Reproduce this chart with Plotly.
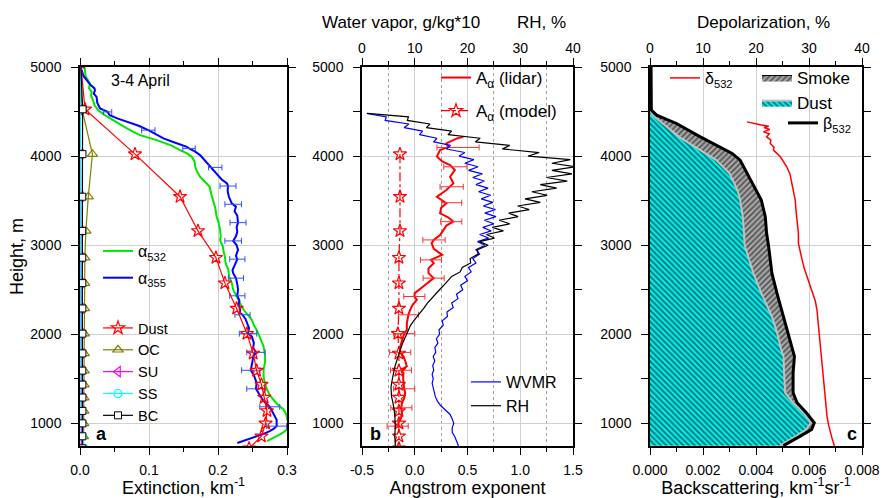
import plotly.graph_objects as go

# ---------------- panel a: extinction profiles ----------------
h_532 = [5000, 4982, 4900, 4814, 4760, 4720, 4680, 4627, 4570, 4515, 4460, 4403, 4350, 4310, 4270,
         4235, 4179, 4120, 4067, 4030, 3992, 3940, 3880, 3820, 3768, 3710, 3656, 3580, 3507, 3420,
         3320, 3250, 3171, 3100, 3059, 2984, 2930, 2872, 2800, 2723, 2650, 2574, 2500, 2424, 2350,
         2275, 2220, 2163, 2100, 2051, 1960, 1864, 1770, 1678, 1600, 1529, 1450, 1380, 1320, 1268,
         1210, 1156, 1100, 1044, 990, 932, 890, 857, 830, 801]
ext_532 = [0.004, 0.007, 0.008, 0.0145, 0.013, 0.017, 0.016, 0.019, 0.021, 0.0265, 0.036, 0.048, 0.058,
           0.068, 0.078, 0.087, 0.111, 0.132, 0.145, 0.155, 0.162, 0.166, 0.167, 0.170, 0.174, 0.181,
           0.188, 0.190, 0.193, 0.196, 0.198, 0.201, 0.203, 0.204, 0.203, 0.207, 0.208, 0.210, 0.211,
           0.215, 0.216, 0.220, 0.222, 0.227, 0.231, 0.237, 0.243, 0.249, 0.252, 0.256, 0.261, 0.266,
           0.268, 0.268, 0.266, 0.266, 0.268, 0.271, 0.275, 0.280, 0.287, 0.295, 0.299, 0.301, 0.302,
           0.300, 0.293, 0.285, 0.278, 0.271]

h_355 = [5000, 4963, 4900, 4851, 4800, 4760, 4739, 4700, 4664, 4600, 4534, 4496, 4459, 4420, 4384,
         4340, 4291, 4240, 4198, 4150, 4104, 4086, 4050, 4011, 3950, 3880, 3800, 3740, 3694, 3664,
         3600, 3540, 3470, 3432, 3380, 3330, 3253, 3200, 3150, 3100, 3048, 3000, 2947, 2880, 2843,
         2780, 2720, 2686, 2630, 2560, 2500, 2432, 2380, 2330, 2280, 2238, 2219, 2170, 2126, 2070,
         2007, 1976, 1900, 1850, 1797, 1752, 1700, 1650, 1596, 1540, 1500, 1454, 1388, 1340, 1304,
         1250, 1186, 1156, 1100, 1040, 1007, 969, 940, 913, 880, 860, 838, 801, 780]
ext_355 = [0.0, 0.0025, 0.005, 0.0097, 0.015, 0.021, 0.0217, 0.020, 0.024, 0.025, 0.029, 0.040, 0.043,
           0.055, 0.068, 0.085, 0.099, 0.111, 0.121, 0.138, 0.155, 0.158, 0.167, 0.174, 0.181, 0.190,
           0.198, 0.205, 0.213, 0.2145, 0.214, 0.216, 0.220, 0.226, 0.224, 0.228, 0.229, 0.227, 0.228,
           0.226, 0.222, 0.227, 0.229, 0.226, 0.228, 0.224, 0.221, 0.222, 0.226, 0.228, 0.229, 0.228,
           0.231, 0.230, 0.232, 0.232, 0.2355, 0.240, 0.242, 0.245, 0.2435, 0.249, 0.252, 0.251, 0.255,
           0.251, 0.250, 0.249, 0.2475, 0.252, 0.254, 0.256, 0.255, 0.259, 0.261, 0.266, 0.275, 0.277,
           0.281, 0.285, 0.285, 0.285, 0.281, 0.275, 0.265, 0.258, 0.251, 0.236, 0.228]

err355_h = [4496, 4291, 4086, 3873, 3664, 3459, 3253, 3048, 2843, 2630, 2432, 2219, 2007, 1797,
            1596, 1388, 1186, 969]
err355_x = [0.040, 0.099, 0.158, 0.196, 0.2145, 0.222, 0.229, 0.222, 0.228, 0.226, 0.228, 0.2355,
            0.2435, 0.255, 0.2475, 0.255, 0.275, 0.285]
err355_d = [0.006, 0.0097, 0.009, 0.0097, 0.0116, 0.012, 0.0116, 0.012, 0.011, 0.011, 0.011, 0.011,
            0.0126, 0.0133, 0.0133, 0.0133, 0.0145, 0.0145]

# model (aerosol species) levels
h_model = [5050, 4525, 4022, 3544, 3160, 2860, 2574, 2290, 2007, 1785, 1592, 1435, 1290, 1140, 1000, 855, 720]
ext_dust = [0.001, 0.0072, 0.0797, 0.145, 0.171, 0.197, 0.210, 0.227, 0.242, 0.251, 0.256, 0.263,
            0.267, 0.271, 0.269, 0.263, 0.245]
ext_oc = [0.0005, 0.003, 0.018, 0.012, 0.0085, 0.007, 0.0068, 0.0066, 0.0064, 0.0062, 0.006, 0.006,
          0.0058, 0.0056, 0.0055, 0.005, 0.005]
ext_su = [0.0003, 0.0008, 0.0012, 0.0012, 0.0012, 0.0013, 0.0014, 0.0015, 0.0016, 0.0016, 0.0016,
          0.0017, 0.0017, 0.0018, 0.0018, 0.0018, 0.0018]
ext_ss = [0.0002, 0.0005, 0.0007, 0.0008, 0.0009, 0.0010, 0.0010, 0.0011, 0.0011, 0.0012, 0.0012,
          0.0013, 0.0014, 0.0016, 0.0020, 0.0035, 0.006]
ext_bc = [0.001, 0.0038, 0.0036, 0.0033, 0.0032, 0.0033, 0.0034, 0.0034, 0.0035, 0.0035, 0.0034,
          0.0034, 0.0035, 0.0035, 0.0035, 0.0034, 0.0034]

# ---------------- panel b: Angstrom exponent, water vapour, RH ----------------
h_ang = [4216, 4198, 4142, 4104, 4067, 3996, 3940, 3899, 3843, 3768, 3694, 3619, 3544, 3470, 3420,
         3358, 3310, 3264, 3220, 3171, 3115, 3059, 3022, 2960, 2891, 2835, 2798, 2740, 2686, 2630,
         2611, 2537, 2462, 2424, 2387, 2330, 2275, 2219, 2126, 2051, 2007, 1977, 1920, 1864, 1797,
         1752, 1700, 1640, 1596, 1566, 1500, 1455, 1388, 1343, 1280, 1231, 1175, 1119, 1060, 1007, 969]
ang_lidar = [0.46, 0.40, 0.30, 0.32, 0.24, 0.21, 0.26, 0.335, 0.38, 0.335, 0.366, 0.30, 0.21, 0.30,
             0.25, 0.24, 0.32, 0.366, 0.30, 0.27, 0.24, 0.18, 0.16, 0.18, 0.26, 0.154, 0.18, 0.13,
             0.13, 0.179, 0.16, 0.08, 0.00, -0.004, 0.02, -0.02, -0.043, -0.06, -0.075, -0.075, -0.10,
             -0.107, -0.12, -0.138, -0.14, -0.107, -0.09, -0.075, -0.13, -0.107, -0.11, -0.107, -0.10,
             -0.091, -0.10, -0.122, -0.127, -0.122, -0.13, -0.154, -0.16]

errang_h = [4097, 3880, 3656, 3477, 3264, 3059, 2835, 2630, 2424, 2219, 2007, 1797, 1596, 1388, 1175, 969]
errang_x = [0.41, 0.385, 0.35, 0.35, 0.346, 0.182, 0.154, 0.179, -0.004, -0.06, -0.10, -0.138, -0.13,
            -0.10, -0.127, -0.162]
errang_d = [0.20, 0.11, 0.11, 0.095, 0.10, 0.106, 0.10, 0.10, 0.10, 0.095, 0.10, 0.10, 0.10, 0.10, 0.10, 0.10]

ang_model = [-0.14, -0.14, -0.14, -0.15, -0.15, -0.15, -0.16, -0.15, -0.15, -0.15, -0.15, -0.15,
             -0.15, -0.15, -0.15]   # model levels from 4022 m down

h_wv = [4480, 4440, 4400, 4360, 4320, 4280, 4240, 4200, 4160, 4120, 4080, 4040, 4000, 3960, 3920,
        3880, 3840, 3800, 3760, 3720, 3680, 3640, 3600, 3560, 3520, 3480, 3440, 3400, 3360, 3320,
        3280, 3240, 3200, 3160, 3120, 3080, 3040, 3000, 2950, 2900, 2850, 2800, 2750, 2700, 2650,
        2600, 2550, 2500, 2450, 2400, 2350, 2300, 2250, 2200, 2150, 2100, 2050, 2000, 1950, 1900,
        1850, 1800, 1750, 1700, 1650, 1600, 1550, 1500, 1450, 1400, 1350, 1300, 1250, 1200, 1150,
        1100, 1050, 1000, 950, 900, 850, 800, 746]
wvmr = [0.9, 4.6, 4.4, 8.9, 8.0, 11.5, 10.9, 14.2, 13.6, 16.8, 16.0, 19.5, 18.4, 21.2, 19.5, 22.0,
        20.2, 22.8, 21.0, 23.2, 21.6, 23.9, 22.1, 24.4, 22.6, 24.8, 23.0, 25.3, 23.3, 25.4, 23.2, 25.0,
        22.9, 24.5, 22.3, 24.0, 21.9, 23.3, 21.6, 22.3, 21.0, 21.6, 20.2, 20.7, 19.5, 20.0, 18.7, 19.1,
        17.9, 18.2, 17.0, 17.3, 16.1, 16.2, 15.2, 15.4, 14.6, 14.7, 14.1, 14.4, 13.8, 14.0, 13.5, 13.8,
        13.4, 13.6, 13.3, 13.5, 13.3, 13.5, 13.6, 13.9, 14.3, 14.9, 15.8, 16.7, 17.1, 17.4, 17.1, 17.1,
        17.6, 18.0, 18.3]
rh = [1.0, 8.8, 8.6, 12.9, 12.2, 17.0, 16.3, 22.4, 21.5, 28.0, 26.6, 33.6, 31.5, 39.5, 36.0, 40.5,
      36.0, 39.8, 35.0, 38.9, 33.8, 36.9, 32.2, 35.1, 30.9, 33.8, 29.5, 31.7, 27.8, 29.6, 26.0, 28.0,
      24.7, 26.8, 23.6, 25.1, 22.3, 23.9, 21.9, 22.0, 20.5, 20.6, 19.0, 18.6, 17.0, 16.3, 15.5, 14.7,
      13.9, 13.2, 12.4, 11.8, 11.1, 10.5, 9.8, 9.2, 8.8, 8.4, 8.0, 7.7, 7.4, 7.1, 6.9, 6.6, 6.3, 6.1,
      5.9, 5.7, 5.6, 5.5, 5.5, 5.6, 5.8, 6.0, 6.1, 6.2, 6.3, 6.3, 6.3, 6.2, 6.2, 6.3, 6.3]

# ---------------- panel c: backscattering and depolarization ----------------
h_bsc = [5000, 4700, 4515, 4459, 4366, 4216, 4104, 4030, 3955, 3806, 3619, 3507, 3320, 3134, 3000,
         2686, 2462, 2200, 2013, 1827, 1752, 1566, 1343, 1231, 1119, 1007, 932, 857, 750]
bsc_total = [0.00004, 0.00004, 0.00005, 0.00025, 0.001, 0.0019, 0.0026, 0.0031, 0.0034, 0.00366,
             0.0040, 0.0042, 0.00435, 0.0044, 0.00447, 0.0046, 0.00479, 0.00504, 0.00523, 0.0054,
             0.00545, 0.0054, 0.0054, 0.00555, 0.0059, 0.0062, 0.0061, 0.00567, 0.00504]
bsc_dust = [0, 0, 0, 0.0001, 0.0005, 0.0011, 0.0017, 0.0021, 0.0025, 0.0030, 0.0033, 0.0034, 0.0035,
            0.00355, 0.00357, 0.0039, 0.0042, 0.0046, 0.0048, 0.00495, 0.00504, 0.00506, 0.0051,
            0.0054, 0.0058, 0.00607, 0.0059, 0.0055, 0.0049]

h_dep = [4384, 4366, 4350, 4336, 4320, 4300, 4272, 4250, 4216, 4180, 4142, 4100, 4067, 3992, 3940,
         3880, 3800, 3694, 3600, 3507, 3420, 3320, 3230, 3134, 3022, 2930, 2835, 2740, 2649, 2560,
         2462, 2370, 2275, 2150, 2051, 1940, 1827, 1700, 1603, 1500, 1380, 1230, 1082, 980, 895, 820, 746]
dep_532 = [18.3, 20.2, 21.0, 22.4, 21.5, 22.6, 21.4, 22.5, 22.0, 22.8, 22.7, 23.4, 23.3, 24.6, 25.1,
           25.8, 26.4, 26.8, 27.1, 27.4, 27.5, 27.7, 27.9, 28.0, 28.0, 28.3, 28.7, 29.1, 29.6, 30.1,
           30.7, 31.2, 31.5, 31.7, 31.8, 32.0, 32.1, 32.3, 32.5, 32.6, 32.8, 33.1, 33.4, 33.7, 34.0,
           34.4, 34.8]

FONT = "Liberation Sans, Arial, sans-serif"
RED = "#ff0000"

fig = go.Figure()

# panel a traces
fig.add_trace(go.Scatter(x=ext_532, y=h_532, mode="lines", name="α<sub>532</sub>",
                         line=dict(color="#00e600", width=2), legend="legend", legendgroup="a1"))
fig.add_trace(go.Scatter(x=ext_355, y=h_355, mode="lines", name="α<sub>355</sub>",
                         line=dict(color="#0000ff", width=2), legend="legend", legendgroup="a2"))
fig.add_trace(go.Scatter(x=err355_x, y=err355_h, mode="markers", showlegend=False,
                         marker=dict(size=1, color="rgba(0,0,0,0)"),
                         error_x=dict(type="data", array=err355_d, color="#3050ff", thickness=1, width=3)))
species = [("Dust", ext_dust, RED, "star-open", 10),
           ("OC", ext_oc, "#808000", "triangle-up-open", 9),
           ("SU", ext_su, "#ff00ff", "triangle-left-open", 9),
           ("SS", ext_ss, "#00ffff", "circle-open", 8)]
for name, vals, col, sym, size in species:
    fig.add_trace(go.Scatter(x=vals, y=h_model, mode="lines+markers", name=name, legend="legend2",
                             line=dict(color=col, width=1.2),
                             marker=dict(symbol=sym, size=size, color=col, line=dict(width=1.2))))
fig.add_trace(go.Scatter(x=ext_bc, y=h_model, mode="lines+markers", name="BC", legend="legend2",
                         line=dict(color="black", width=1.2),
                         marker=dict(symbol="square", size=7, color="white", line=dict(color="black", width=1))))

# panel b traces
fig.add_trace(go.Scatter(x=wvmr, y=h_wv, xaxis="x4", yaxis="y2", mode="lines", name="WVMR",
                         line=dict(color="#0000ff", width=1.2), legend="legend4"))
fig.add_trace(go.Scatter(x=rh, y=h_wv, xaxis="x4", yaxis="y2", mode="lines", name="RH",
                         line=dict(color="black", width=1.2), legend="legend4"))
fig.add_trace(go.Scatter(x=ang_lidar, y=h_ang, xaxis="x2", yaxis="y2", mode="lines",
                         name="A<sub>α</sub> (lidar)", line=dict(color=RED, width=2),
                         legend="legend3", legendgroup="b1"))
fig.add_trace(go.Scatter(x=errang_x, y=errang_h, xaxis="x2", yaxis="y2", mode="markers", showlegend=False,
                         marker=dict(size=1, color="rgba(0,0,0,0)"),
                         error_x=dict(type="data", array=errang_d, color="#ff3030", thickness=1, width=3)))
fig.add_trace(go.Scatter(x=ang_model, y=h_model[2:], xaxis="x2", yaxis="y2", mode="lines+markers",
                         name="A<sub>α</sub> (model)", legend="legend3", legendgroup="b2",
                         line=dict(color=RED, width=1.2, dash="dashdot"),
                         marker=dict(symbol="star-open", size=10, color=RED, line=dict(width=1.2))))

# panel c traces
fig.add_trace(go.Scatter(x=bsc_dust, y=h_bsc, xaxis="x3", yaxis="y3", mode="lines", name="Dust",
                         fill="tozerox", legend="legend6", legendrank=2,
                         line=dict(color="#c0c0c0", width=2),
                         fillpattern=dict(shape="\\", bgcolor="#00ffff", fgcolor="black", size=4, solidity=0.55)))
fig.add_trace(go.Scatter(x=bsc_total, y=h_bsc, xaxis="x3", yaxis="y3", mode="lines", name="Smoke",
                         fill="tonextx", legend="legend6", legendrank=1,
                         line=dict(color="black", width=1),
                         fillpattern=dict(shape="/", bgcolor="#a8a8a8", fgcolor="black", size=4, solidity=0.45)))
fig.add_trace(go.Scatter(x=bsc_total, y=h_bsc, xaxis="x3", yaxis="y3", mode="lines",
                         name="β<sub>532</sub>", line=dict(color="black", width=3), legend="legend7"))
fig.add_trace(go.Scatter(x=dep_532, y=h_dep, xaxis="x5", yaxis="y3", mode="lines",
                         name="δ<sub>532</sub>", line=dict(color=RED, width=1.5), legend="legend5"))

# axes
W, H = 884, 498
ML, MR, MT, MB = 80, 22, 67, 52
pw = W - ML - MR
ph = H - MT - MB
dom_a = [0, 207 / pw]
dom_b = [282 / pw, 493 / pw]
dom_c = [570 / pw, 1]

tickfont = dict(family=FONT, size=14, color="black")
titlefont = dict(family=FONT, size=18, color="black")
common = dict(showline=True, linecolor="black", linewidth=1.5, ticks="outside", ticklen=7,
              tickcolor="black", tickwidth=1.2, tickfont=tickfont, zeroline=False,
              gridcolor="#d0d0d0", gridwidth=1, automargin=False)
yrange = [746, 5000]
yax = dict(common, range=yrange, dtick=1000, mirror="allticks", showgrid=True, ticklabelstandoff=7,
           minor=dict(dtick=500, ticks="outside", ticklen=4, tickcolor="black"))

x_a_ticks = [0, 0.1, 0.2, 0.3]
x_a_text = ["0.0", "0.1", "0.2", "0.3"]
x_b_ticks = [-0.5, 0, 0.5, 1.0, 1.5]
x_b_text = ["-0.5", "0.0", "0.5", "1.0", "1.5"]
x_c_ticks = [0, 0.002, 0.004, 0.006, 0.008]
x_c_text = ["0.000", "0.002", "0.004", "0.006", "0.008"]

fig.update_layout(
    width=W, height=H, margin=dict(l=ML, r=MR, t=MT, b=MB),
    plot_bgcolor="white", paper_bgcolor="white",
    font=dict(family=FONT, size=14, color="black"),
    xaxis=dict(common, domain=dom_a, anchor="y", range=[0, 0.3], tickvals=x_a_ticks, ticktext=x_a_text,
               mirror="allticks", ticklabelstandoff=3,
               title=dict(text="Extinction, km<sup>-1</sup>", font=titlefont, standoff=8),
               minor=dict(dtick=0.05, ticks="outside", ticklen=4, tickcolor="black")),
    yaxis=dict(yax, anchor="x", domain=[0, 1],
               title=dict(text="Height, m", font=titlefont, standoff=2)),
    xaxis2=dict(common, domain=dom_b, anchor="y2", range=[-0.5, 1.5], tickvals=x_b_ticks, ticktext=x_b_text,
                ticklabelstandoff=3,
                title=dict(text="Angstrom exponent", font=titlefont, standoff=8),
                minor=dict(tickvals=[-0.25, 0.25, 0.75, 1.25], ticks="outside", ticklen=4, tickcolor="black",
                           showgrid=True, griddash="dot", gridcolor="#a0a0a0")),
    yaxis2=dict(yax, anchor="x2", domain=[0, 1]),
    xaxis3=dict(common, domain=dom_c, anchor="y3", range=[0, 0.008], tickvals=x_c_ticks, ticktext=x_c_text,
                ticklabelstandoff=3,
                title=dict(text="Backscattering, km<sup>-1</sup>sr<sup>-1</sup>", font=titlefont, standoff=8),
                minor=dict(dtick=0.001, ticks="outside", ticklen=4, tickcolor="black")),
    yaxis3=dict(yax, anchor="x3", domain=[0, 1]),
    xaxis4=dict(common, overlaying="x2", anchor="y2", side="top", range=[0, 40], dtick=10, showgrid=False,
                minor=dict(dtick=5, ticks="outside", ticklen=4, tickcolor="black")),
    xaxis5=dict(common, overlaying="x3", anchor="y3", side="top", range=[0, 40], dtick=10, showgrid=False,
                minor=dict(dtick=5, ticks="outside", ticklen=4, tickcolor="black")),
)


def px_x(p):
    return (p - ML) / pw


def px_y(p):
    return 1 - (p - MT) / ph


def legend_at(x, y, size=16, gap=0, order="normal"):
    return dict(bgcolor="rgba(0,0,0,0)", borderwidth=0, font=dict(family=FONT, size=size, color="black"),
                xanchor="left", yanchor="top", tracegroupgap=gap, traceorder=order,
                x=px_x(x), y=px_y(y))


fig.update_layout(
    legend=legend_at(98, 234, gap=3, order="grouped"),
    legend2=legend_at(98, 312, size=14.5),
    legend3=legend_at(436, 60, size=17, gap=8, order="grouped"),
    legend4=legend_at(466, 365, size=16),
    legend5=legend_at(665, 61),
    legend6=legend_at(757, 60, size=17),
    legend7=legend_at(783, 106),
)


def label(text, x, y, size):
    return dict(text=text, x=px_x(x), y=px_y(y), xref="paper", yref="paper", showarrow=False,
                xanchor="center", yanchor="middle", font=dict(family=FONT, size=size, color="black"))


fig.update_layout(annotations=[
    dict(text="3-4 April", x=0.088, y=4850, xref="x", yref="y", showarrow=False,
         xanchor="center", yanchor="middle", font=dict(family=FONT, size=16, color="black")),
    label("<b>a</b>", 101, 434, 18),
    label("<b>b</b>", 375, 434, 18),
    label("<b>c</b>", 852, 434, 18),
    label("Water vapor, g/kg*10", 401, 22, 17),
    label("RH, %", 541, 22, 17),
    label("Depolarization, %", 763, 22, 17),
])

fig.write_html("out.html", config={"displayModeBar": False},
               post_script="document.body.style.margin='0';")
